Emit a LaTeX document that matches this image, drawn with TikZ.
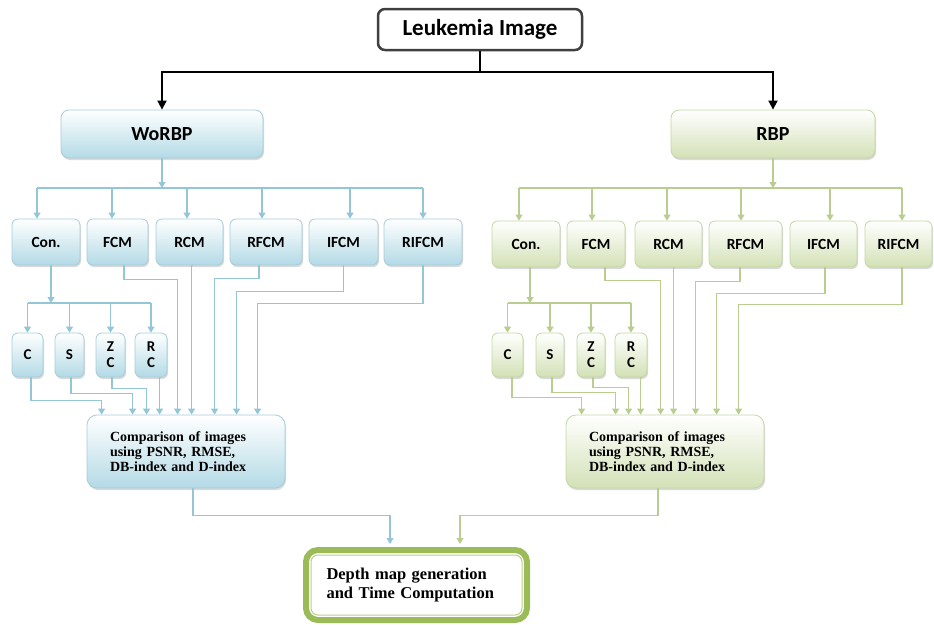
\documentclass[tikz,border=0pt]{standalone}
\usepackage{fontspec}
\setmainfont{Liberation Serif}
\newfontfamily\calfont{Carlito}
\usepackage{tikz}
\usetikzlibrary{arrows.meta,shadows}
\definecolor{cdark}{HTML}{3F3F3F}
\definecolor{cblue}{HTML}{B3DAE6}
\definecolor{cblueedge}{HTML}{A6CCDA}
\definecolor{cblueline}{HTML}{93C6D6}
\definecolor{cgreen}{HTML}{D3E1B6}
\definecolor{cgreenedge}{HTML}{C4D6A2}
\definecolor{cgreenline}{HTML}{B9CD90}
\definecolor{cframe}{HTML}{9BBB59}
\definecolor{cframein}{HTML}{B9CF8A}
\tikzset{
  topbox/.style={rounded corners=7pt, draw=cdark, line width=2.5pt, fill=white,
    minimum width=204pt, minimum height=41pt, font=\calfont\bfseries\fontsize{23}{26}\selectfont},
  procbox/.style={rounded corners=6pt, line width=0.8pt, align=center, inner sep=2pt,
    drop shadow={shadow xshift=1pt, shadow yshift=-2pt, opacity=0.3, fill=gray},
    font=\calfont\bfseries\fontsize{15.5}{18}\selectfont},
  bluebox/.style={procbox, draw=cblueedge, top color=white, bottom color=cblue},
  greenbox/.style={procbox, draw=cgreenedge, top color=white, bottom color=cgreen},
  headbox/.style={minimum width=202pt, minimum height=48pt, rounded corners=8pt,
    font=\calfont\bfseries\fontsize{20}{24}\selectfont},
  subbox/.style={minimum height=44pt, font=\calfont\bfseries\fontsize{15}{16}\selectfont},
  compbox/.style={minimum width=198pt, minimum height=73pt, text width=152pt, align=left,
    rounded corners=10pt, font=\bfseries\fontsize{14}{15}\selectfont},
  finalbox/.style={draw=cframe, line width=6pt, rounded corners=12pt, fill=white,
    minimum width=221pt, minimum height=70pt, text width=180pt, align=left,
    font=\bfseries\fontsize{16.5}{19}\selectfont},
  innerframe/.style={draw=cframein, line width=1pt, rounded corners=7pt},
  kline/.style={line width=1.8pt, draw=black},
  karrow/.style={kline, -{Triangle[width=9pt,length=9pt]}},
  bline/.style={line width=1.1pt, draw=cblueline},
  barrow/.style={bline, -{Triangle[width=7pt,length=6pt]}},
  gline/.style={line width=1.1pt, draw=cgreenline},
  garrow/.style={gline, -{Triangle[width=7pt,length=6pt]}}
}
\begin{document}
\begin{tikzpicture}[x=1pt,y=-1pt]
  \useasboundingbox (0,0) rectangle (934,624);

  \node[topbox] (leuk) at (480,29.5) {Leukemia Image};
  \node[bluebox, headbox] (worbp) at (162,134) {WoRBP};
  \node[greenbox, headbox, minimum width=204pt] (rbp) at (773,134) {RBP};

  \foreach \nm/\lbl/\cx/\bw in {con/Con./46/68, fcm/FCM/117.5/61, rcm/RCM/189.5/67,
      rfcm/RFCM/266/72, ifcm/IFCM/343.5/69, rifcm/RIFCM/423/78}
    \node[bluebox, minimum width=\bw pt, minimum height=46pt] (w\nm) at (\cx,242) {\lbl};
  \foreach \nm/\lbl/\cx/\bw in {con/Con./526/68, fcm/FCM/596/58, rcm/RCM/668.5/67,
      rfcm/RFCM/745.5/73, ifcm/IFCM/823.5/67, rifcm/RIFCM/898.5/67}
    \node[greenbox, minimum width=\bw pt, minimum height=46pt] (r\nm) at (\cx,244) {\lbl};

  \foreach \nm/\lbl/\cx/\bw in {c/C/27.5/31, s/S/69.5/29, zc/{Z\\C}/110.5/29, rc/{R\\C}/151/32}
    \node[bluebox, subbox, minimum width=\bw pt] (w\nm) at (\cx,355) {\lbl};
  \foreach \nm/\lbl/\cx/\bw in {c/C/507.5/31, s/S/550/28, zc/{Z\\C}/591/28, rc/{R\\C}/631/32}
    \node[greenbox, subbox, minimum width=\bw pt] (r\nm) at (\cx,355) {\lbl};

  \node[bluebox, compbox] (wcomp) at (186,451.5)
    {Comparison of images\\using PSNR, RMSE,\\DB-index and D-index};
  \node[greenbox, compbox] (rcomp) at (665,451.5)
    {Comparison of images\\using PSNR, RMSE,\\DB-index and D-index};

  \node[finalbox] (depth) at (416.5,585) {Depth map generation\\and Time Computation};
  \draw[innerframe] ([shift={(8pt,-8pt)}]depth.north west) rectangle ([shift={(-8pt,8pt)}]depth.south east);

  \coordinate (ksplit) at (480,72);
  \draw[kline] (leuk.south) -- (ksplit);
  \draw[karrow] (ksplit) -| (worbp.north);
  \draw[karrow] (ksplit) -| (rbp.north);

  \coordinate (wbus) at (0,188);
  \draw[barrow] (worbp.south) -- (worbp.south |- wbus);
  \draw[bline] ([xshift=-9pt]wcon.north |- wbus) -- (wrifcm.north |- wbus);
  \foreach \nm/\dx in {con/-9, fcm/-5.5, rcm/-2.5, rfcm/-4, ifcm/6.5, rifcm/0}
    \draw[barrow] ([xshift=\dx pt]w\nm.north |- wbus) -- ([xshift=\dx pt]w\nm.north);

  \coordinate (rbus) at (0,188);
  \draw[garrow] (rbp.south) -- (rbp.south |- rbus);
  \draw[gline] ([xshift=-7pt]rcon.north |- rbus) -- ([xshift=3.5pt]rrifcm.north |- rbus);
  \foreach \nm/\dx in {con/-7, fcm/-4, rcm/-1.5, rfcm/-4.5, ifcm/6.5, rifcm/3.5}
    \draw[garrow] ([xshift=\dx pt]r\nm.north |- rbus) -- ([xshift=\dx pt]r\nm.north);

  \coordinate (wsbus) at (0,303);
  \draw[barrow] ([xshift=5pt]wcon.south) -- ([xshift=5pt]wcon.south |- wsbus);
  \draw[bline] (wc.north |- wsbus) -- (wrc.north |- wsbus);
  \foreach \nm in {c,s,zc,rc}
    \draw[barrow] (w\nm.north |- wsbus) -- (w\nm.north);

  \coordinate (rsbus) at (0,303);
  \draw[garrow] ([xshift=4pt]rcon.south) -- ([xshift=4pt]rcon.south |- rsbus);
  \draw[gline] (rc.north |- rsbus) -- (rrc.north |- rsbus);
  \foreach \nm in {c,s,zc,rc}
    \draw[garrow] (r\nm.north |- rsbus) -- (r\nm.north);

  \foreach \nm/\sx/\dy/\tx in {c/3.5/23/15, s/1.5/16/46, zc/1.5/11/60, rc/9/0/73,
      fcm/6.5/14/91, rcm/2.5/0/105, rfcm/-7/13/128, ifcm/0/26/150, rifcm/0/38/171}
    \draw[barrow] ([xshift=\sx pt]w\nm.south) -- ++(0,\dy) -| ([xshift=\tx pt]wcomp.north west);
  \foreach \nm/\sx/\dy/\tx in {c/4.5/20/16, s/2/15/50, zc/2/10/63, rc/11/0/75,
      fcm/9/13/95, rcm/5.5/0/108, rfcm/-5.5/14/130, ifcm/1.5/26/151, rifcm/3.5/37/173}
    \draw[garrow] ([xshift=\sx pt]r\nm.south) -- ++(0,\dy) -| ([xshift=\tx pt]rcomp.north west);

  \draw[barrow, shorten >=3pt] ([xshift=7pt]wcomp.south) -- ++(0,27) -| ([xshift=-26.5pt]depth.north);
  \draw[garrow, shorten >=3pt] ([xshift=-7pt]rcomp.south) -- ++(0,27) -| ([xshift=43.5pt]depth.north);
\end{tikzpicture}
\end{document}
